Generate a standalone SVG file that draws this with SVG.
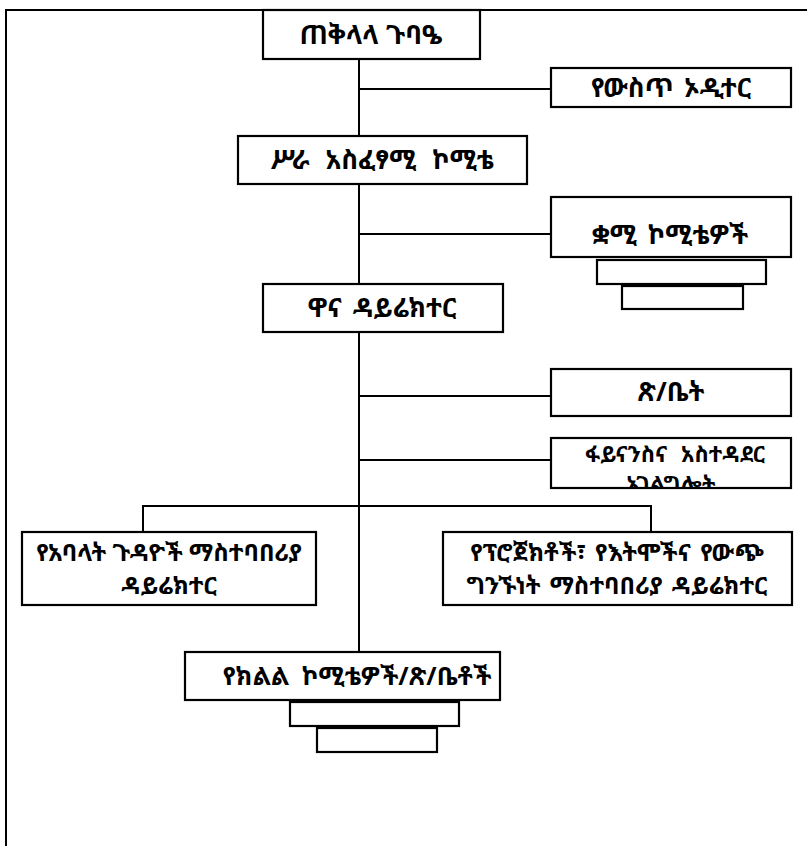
<svg xmlns="http://www.w3.org/2000/svg" width="807" height="846" viewBox="0 0 807 846">
<style>
.box{fill:#fff;stroke:#000;stroke-width:2.2}
.ln{stroke:#000;stroke-width:2;fill:none}
.t{font-family:"Noto Sans Ethiopic","Abyssinica SIL","Noto Serif Ethiopic","DejaVu Sans","Noto Sans",sans-serif;font-size:26px;font-weight:bold;text-anchor:middle;fill:#000}
.s{font-size:24px}
.g{font-size:22px}
</style>
<defs>
<clipPath id="clipG"><rect x="552" y="439" width="238" height="48"/></clipPath>
</defs>
<rect width="807" height="846" fill="#fff"/>
<g id="frame"><path class="ln" d="M6,846 V10 H807"/></g>
<g id="connectors">
<path class="ln" d="M359,59 V652"/>
<path class="ln" d="M359,89 H551"/>
<path class="ln" d="M359,234 H551"/>
<path class="ln" d="M359,396 H551"/>
<path class="ln" d="M359,460 H551"/>
<path class="ln" d="M143,532 V506 H651 V532"/>
</g>
<g id="n1"><rect class="box" x="263" y="10" width="217" height="49"/><text class="t" x="371" y="44">ጠቅላላ ጉባዔ</text></g>
<g id="n2"><rect class="box" x="551" y="68" width="240" height="39"/><text class="t" x="671" y="97" word-spacing="4">የውስጥ ኦዲተር</text></g>
<g id="n3"><rect class="box" x="238" y="136" width="289" height="48"/><text class="t" x="382" y="169" word-spacing="9">ሥራ አስፈፃሚ ኮሚቴ</text></g>
<g id="n4"><rect class="box" x="551" y="197" width="240" height="60"/><text class="t" x="670" y="244" word-spacing="4">ቋሚ ኮሚቴዎች</text>
<rect class="box" x="597" y="260" width="169" height="24"/><rect class="box" x="622" y="286" width="121" height="23"/></g>
<g id="n5"><rect class="box" x="263" y="284" width="240" height="48"/><text class="t" x="382" y="317" word-spacing="4">ዋና ዳይሬክተር</text></g>
<g id="n6"><rect class="box" x="551" y="369" width="240" height="47"/><text class="t" x="671" y="401">ጽ/ቤት</text></g>
<g id="n7"><rect class="box" x="551" y="438" width="240" height="50"/><g clip-path="url(#clipG)"><text class="t g" x="675" y="462" word-spacing="8">ፋይናንስና አስተዳደር</text><text class="t g" x="671" y="492">አገልግሎት</text></g></g>
<g id="n8"><rect class="box" x="22" y="532" width="294" height="73"/><text class="t s" x="169" y="561">የአባላት ጉዳዮች ማስተባበሪያ</text><text class="t s" x="169" y="594">ዳይሬክተር</text></g>
<g id="n9"><rect class="box" x="443" y="532" width="349" height="73"/><text class="t s" x="617" y="561" word-spacing="3">የፕሮጀክቶች፣ የእትሞችና የውጭ</text><text class="t s" x="617" y="594" word-spacing="3">ግንኙነት ማስተባበሪያ ዳይሬክተር</text></g>
<g id="n10"><rect class="box" x="185" y="652" width="315" height="48"/><text class="t" x="357" y="685" style="font-size:25px" word-spacing="6">የክልል ኮሚቴዎች/ጽ/ቤቶች</text>
<rect class="box" x="290" y="702" width="169" height="24"/><rect class="box" x="317" y="728" width="120" height="24"/></g>
</svg>
